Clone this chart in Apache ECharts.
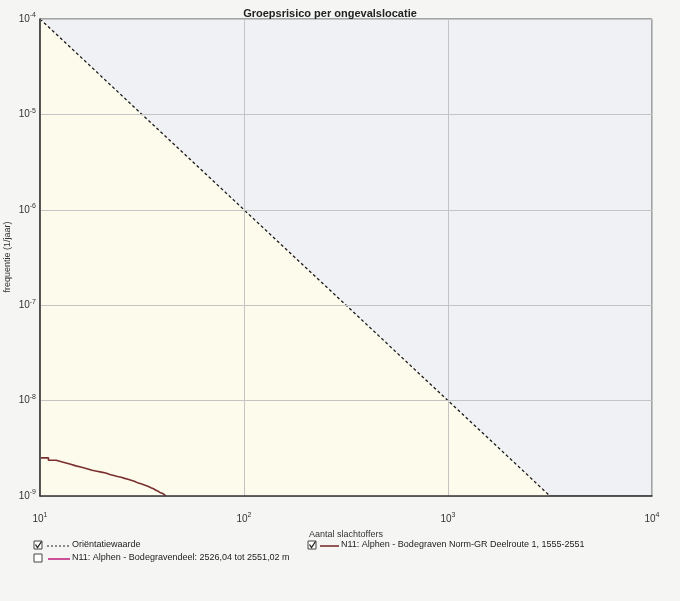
<!DOCTYPE html>
<html>
<head>
<meta charset="utf-8">
<script src="https://cdn.jsdelivr.net/npm/echarts@6/dist/echarts.min.js"></script>
<style>
html,body{margin:0;padding:0;background:#f5f5f3;}
#c{width:680px;height:601px;}
</style>
</head>
<body>
<div id="c"></div>
<script>
// ---- data ----
var xTickExponents = [1, 2, 3, 4];
var yTickExponents = [-4, -5, -6, -7, -8, -9];
var orientatieN = [10, 1000, 3162];
var orientatieF = [1e-4, 1e-8, 1e-9];
var n11N = [10,11,12,13,14,15,16,17,18,19,20,21,22,23,24,25,26,27,28,29,30,31,32,33,34,35,36,37,38,39,40,41];
var n11F = [2.51e-9,2.37e-9,2.26e-9,2.16e-9,2.07e-9,2.0e-9,1.93e-9,1.86e-9,1.82e-9,1.78e-9,1.74e-9,1.68e-9,1.64e-9,1.60e-9,1.57e-9,1.53e-9,1.50e-9,1.46e-9,1.43e-9,1.38e-9,1.35e-9,1.32e-9,1.29e-9,1.26e-9,1.22e-9,1.19e-9,1.15e-9,1.12e-9,1.08e-9,1.06e-9,1.02e-9,1.0e-9];
var titleText = 'Groepsrisico per ongevalslocatie';
var xName = 'Aantal slachtoffers';
var yName = 'frequentie (1/jaar)';
var legendOrient = 'Oriëntatiewaarde';
var legendDeel = 'N11: Alphen - Bodegravendeel: 2526,04 tot 2551,02 m';
var legendRoute = 'N11: Alphen - Bodegraven Norm-GR Deelroute 1, 1555-2551';

var FONT = '"Liberation Sans", Arial, sans-serif';
function zip(a, b) { return a.map(function (v, i) { return [v, b[i]]; }); }
function expOf(v) { return Math.round(Math.log(v) / Math.LN10); }

var chart = echarts.init(document.getElementById('c'), null, {renderer: 'canvas'});

function checkbox(x, y, checked) {
  var els = [{
    type: 'rect', shape: {x: x, y: y, width: 8, height: 8},
    style: {fill: '#fff', stroke: '#444', lineWidth: 1}
  }];
  if (checked) {
    els.push({
      type: 'polyline',
      shape: {points: [[x + 1.5, y + 3.5], [x + 3.5, y + 6.5], [x + 7.5, y + 0.5]]},
      style: {stroke: '#222', lineWidth: 1.3, fill: null}
    });
  }
  return els;
}

var graphics = [];
graphics.push({type: 'text', x: 8, y: 257, rotation: Math.PI / 2,
  style: {text: yName, font: '9px ' + FONT, fill: '#333', align: 'center', verticalAlign: 'middle'}});
graphics = graphics.concat(checkbox(34, 541, true));
graphics.push({type: 'line', shape: {x1: 47, y1: 546, x2: 70, y2: 546},
  style: {stroke: '#222', lineWidth: 1.2, lineDash: [2, 2]}});
graphics.push({type: 'text', left: 72, top: 540,
  style: {text: legendOrient, font: '9px ' + FONT, fill: '#222'}});
graphics = graphics.concat(checkbox(34, 554, false));
graphics.push({type: 'line', shape: {x1: 48, y1: 559, x2: 70, y2: 559},
  style: {stroke: '#c2287e', lineWidth: 1.6}});
graphics.push({type: 'text', left: 72, top: 553,
  style: {text: legendDeel, font: '9px ' + FONT, fill: '#222'}});
graphics = graphics.concat(checkbox(308, 541, true));
graphics.push({type: 'line', shape: {x1: 320, y1: 546, x2: 339, y2: 546},
  style: {stroke: '#7a2f2f', lineWidth: 1.6}});
graphics.push({type: 'text', left: 341, top: 540,
  style: {text: legendRoute, font: '9px ' + FONT, fill: '#222'}});

var richLbl = {
  b: {fontSize: 10, fontFamily: FONT, color: '#333'},
  e: {fontSize: 7, fontFamily: FONT, color: '#333', padding: [0, 0, 7, 0]}
};

var option = {
  backgroundColor: '#f5f5f3',
  animation: false,
  title: {
    text: titleText, left: 325, top: 3, textAlign: 'center',
    textStyle: {fontSize: 11, fontWeight: 'bold', fontFamily: FONT, color: '#222'}
  },
  grid: {
    left: 40, right: 28, top: 19, bottom: 105,
    containLabel: false, outerBoundsMode: 'none',
    show: true, backgroundColor: '#eff1f4', borderColor: '#555', borderWidth: 1
  },
  xAxis: {
    type: 'log', logBase: 10, min: 10, max: 10000, z: 10,
    name: xName, nameLocation: 'middle', nameGap: 34,
    nameTextStyle: {fontSize: 9, fontFamily: FONT, color: '#333'},
    axisLine: {show: true, onZero: false, lineStyle: {color: '#333', width: 1.5}},
    axisTick: {show: false},
    splitLine: {show: true, lineStyle: {color: '#c4c4c4', width: 1}},
    axisLabel: {
      margin: 16,
      formatter: function (v) {
        var e = expOf(v);
        return xTickExponents.indexOf(e) >= 0 ? '{b|10}{e|' + e + '}' : '';
      },
      rich: richLbl
    }
  },
  yAxis: {
    type: 'log', logBase: 10, min: 1e-9, max: 1e-4, z: 10,
    axisLine: {show: true, lineStyle: {color: '#333', width: 1.5}},
    axisTick: {show: false},
    splitLine: {show: true, lineStyle: {color: '#c4c4c4', width: 1}},
    axisLabel: {
      margin: 4,
      formatter: function (v) {
        var e = expOf(v);
        return yTickExponents.indexOf(e) >= 0 ? '{b|10}{e|' + e + '}' : '';
      },
      rich: richLbl
    }
  },
  series: [
    {
      name: legendOrient, type: 'line', data: zip(orientatieN, orientatieF),
      symbol: 'none', silent: true, z: 3,
      lineStyle: {color: '#1a1a1a', width: 1.3, type: [3, 2.5]},
      areaStyle: {color: '#fdfbec', opacity: 1, origin: 'start'}
    },
    {
      name: legendRoute, type: 'line', data: zip(n11N, n11F),
      step: 'end', symbol: 'none', silent: true, z: 4,
      lineStyle: {color: '#7a2f2f', width: 1.6}
    }
  ],
  graphic: graphics
};
chart.setOption(option);
</script>
</body>
</html>
